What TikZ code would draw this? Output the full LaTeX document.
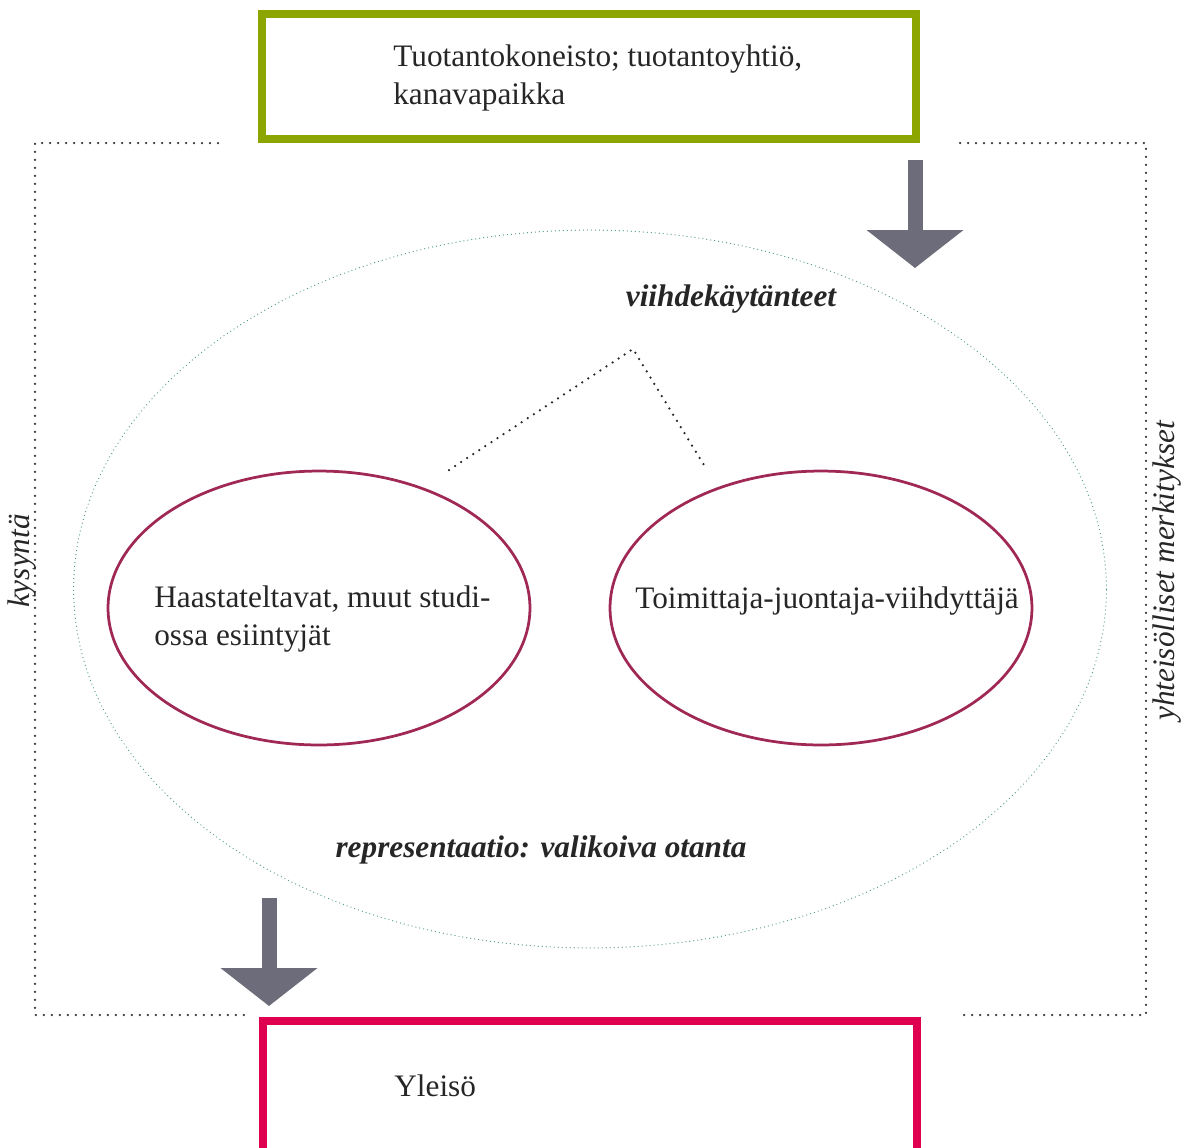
\documentclass[tikz,border=0pt]{standalone}
\usepackage{fontspec}
\setmainfont{Liberation Serif}
\usetikzlibrary{arrows.meta,shapes.geometric}

\definecolor{boxgreen}{RGB}{140,165,0}
\definecolor{boxred}{RGB}{224,0,80}
\definecolor{ringred}{RGB}{160,40,85}
\definecolor{ringteal}{RGB}{70,150,125}
\definecolor{arrowgray}{RGB}{108,108,122}

\tikzset{
  txt/.style={font=\fontsize{17.8}{21.5}\selectfont,text=black!85,inner sep=0pt},
  bitxt/.style={txt,font=\fontsize{17.8}{21.5}\selectfont\bfseries\itshape},
  sidetxt/.style={txt,font=\fontsize{17.8}{21.5}\selectfont\itshape,rotate=90},
  frame/.style={black!80,line width=0.05cm,line cap=round,dash pattern=on 0pt off 0.16cm},
  twig/.style={black!85,line width=0.05cm,line cap=round,dash pattern=on 0pt off 0.145cm},
  outerring/.style={ellipse,draw=ringteal,line width=0.025cm,line cap=round,
                    dash pattern=on 0pt off 0.08cm,minimum width=20.66cm,minimum height=14.36cm},
  ring/.style={ellipse,draw=ringred,line width=0.055cm,minimum width=8.44cm,minimum height=5.48cm},
  bigbox/.style={rectangle,line width=0.16cm,minimum width=13.08cm,minimum height=2.5cm},
  blockarrow/.style={arrowgray,line width=0.3cm,-{Triangle[width=1.9cm,length=0.76cm]}}
}

\begin{document}
\begin{tikzpicture}[x=0.02cm,y=-0.02cm]
  \useasboundingbox (0,0) rectangle (1184,1147);

  % top and bottom boxes
  \node[bigbox,draw=boxgreen] (tuotanto) at (589,76.5) {};
  \node[txt,anchor=west,align=left] (tuotantotxt) at (393,78)
       {Tuotantokoneisto; tuotantoyhtiö,\\kanavapaikka};
  \node[bigbox,draw=boxred,minimum height=2.7cm] (yleiso) at (590,1088.5) {};
  \node[txt,anchor=west] (yleisotxt) at (394,1086) {Yleisö};

  % dotted frame
  \draw[frame] (218,143) -- (35,143) -- (35,1015) -- (250,1015);
  \draw[frame] (960,143) -- (1146,143) -- (1146,1015) -- (962,1015);
  \node[sidetxt] (kysynta) at (22,561) {kysyntä};
  \node[sidetxt] (merkitys) at (1167,571) {yhteisölliset merkitykset};

  % rings
  \node[outerring] (kaytannot) at (590,589) {};
  \node[ring] (haastateltavat) at (319,608) {};
  \node[ring] (toimittaja) at (821,608) {};
  \node[txt,anchor=west,align=left] at (154,619)
       {Haastateltavat, muut studi-\\ossa esiintyjät};
  \node[txt] at (827,601) {Toimittaja-juontaja-viihdyttäjä};

  \node[bitxt] (viihde) at (731,299) {viihdekäytänteet};
  \node[bitxt] (repr) at (541,850) {representaatio: valikoiva otanta};

  \coordinate (apex) at (633,349);
  \coordinate (twigl) at (449,470);
  \coordinate (twigr) at (707,470);
  \draw[twig] (twigl) -- (apex) -- (twigr);

  % block arrows
  \coordinate (a1) at (915,160);
  \coordinate (a1end) at (915,268);
  \coordinate (a2) at (269,898);
  \coordinate (a2end) at (269,1006);
  \draw[blockarrow] (a1) -- (a1end);
  \draw[blockarrow] (a2) -- (a2end);
\end{tikzpicture}
\end{document}
